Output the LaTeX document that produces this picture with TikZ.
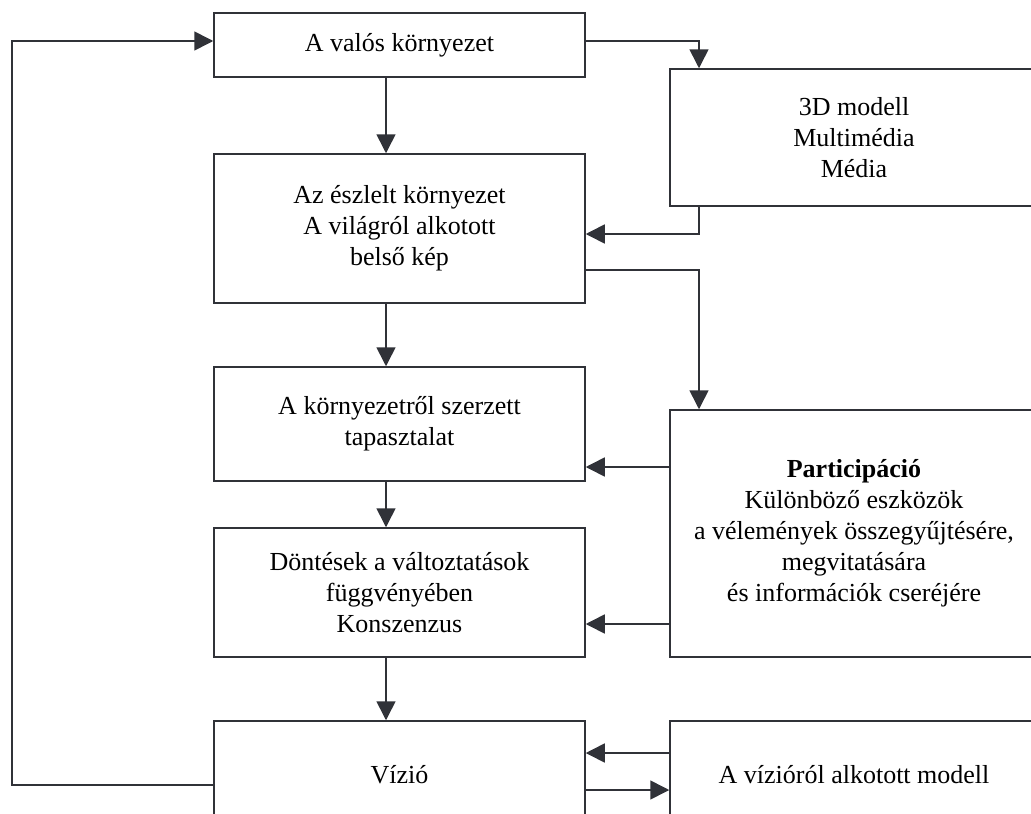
\documentclass[tikz,border=0pt]{standalone}
\usepackage{fontspec}
\setmainfont{Liberation Serif}
\usetikzlibrary{arrows.meta,calc}
\definecolor{ink}{RGB}{48,50,56}
\begin{document}
\begin{tikzpicture}[x=1pt,y=-1pt,
  box/.style={draw=ink,line width=1.5pt,fill=white,inner sep=0pt,align=center,
    font=\fontsize{26}{31}\selectfont,text=black},
  arr/.style={draw=ink,line width=1.6pt,-{Triangle[width=19pt,length=19pt]}}]
\useasboundingbox (0,0) rectangle (1031,814);
\fill[white] (0,0) rectangle (1031,814);
\clip (0,0) rectangle (1031,814);
% left column
\node[box,minimum width=371pt,minimum height=64pt] (b1) at (399.5,45) {A valós környezet};
\node[box,minimum width=371pt,minimum height=149pt] (b2) at (399.5,228.5) {Az észlelt környezet\\A világról alkotott\\belső kép};
\node[box,minimum width=371pt,minimum height=114pt] (b3) at (399.5,424) {A környezetről szerzett\\tapasztalat};
\node[box,minimum width=371pt,minimum height=129pt] (b4) at (399.5,592.5) {Döntések a változtatások\\függvényében\\Konszenzus};
\node[box,minimum width=371pt,minimum height=108pt] (b5) at (399.5,775) {Vízió};
% right column
\node[box,minimum width=368pt,minimum height=137pt] (td) at (854,137.5) {3D modell\\Multimédia\\Média};
\node[box,minimum width=368pt,minimum height=247pt] (pa) at (854,533.5) {\textbf{Participáció}\\Különböző eszközök\\a vélemények összegyűjtésére,\\megvitatására\\és információk cseréjére};
\node[box,minimum width=368pt,minimum height=108pt] (mo) at (854,775) {A vízióról alkotott modell};
% helper coordinates
\coordinate (ax) at (386,0);
\coordinate (rx) at (699,0);
\coordinate (lx) at (12,0);
\coordinate (y41) at (0,41);
\coordinate (y234) at (0,234);
\coordinate (y270) at (0,270);
\coordinate (y467) at (0,467);
\coordinate (y624) at (0,624);
\coordinate (y753) at (0,753);
\coordinate (y785) at (0,785);
\coordinate (y790) at (0,790);
% vertical flow
\draw[arr] (b1.south -| ax) -- (b2.north -| ax);
\draw[arr] (b2.south -| ax) -- (b3.north -| ax);
\draw[arr] (b3.south -| ax) -- (b4.north -| ax);
\draw[arr] (b4.south -| ax) -- (b5.north -| ax);
% right connectors
\draw[arr] (b1.east |- y41) -| (rx |- td.north);
\draw[arr] (rx |- td.south) |- (b2.east |- y234);
\draw[arr] (b2.east |- y270) -| (rx |- pa.north);
\draw[arr] (pa.west |- y467) -- (b3.east |- y467);
\draw[arr] (pa.west |- y624) -- (b4.east |- y624);
\draw[arr] (mo.west |- y753) -- (b5.east |- y753);
\draw[arr] (b5.east |- y790) -- (mo.west |- y790);
% feedback loop
\draw[arr] (b5.west |- y785) -| (lx |- y41) -- (b1.west |- y41);
\end{tikzpicture}
\end{document}
